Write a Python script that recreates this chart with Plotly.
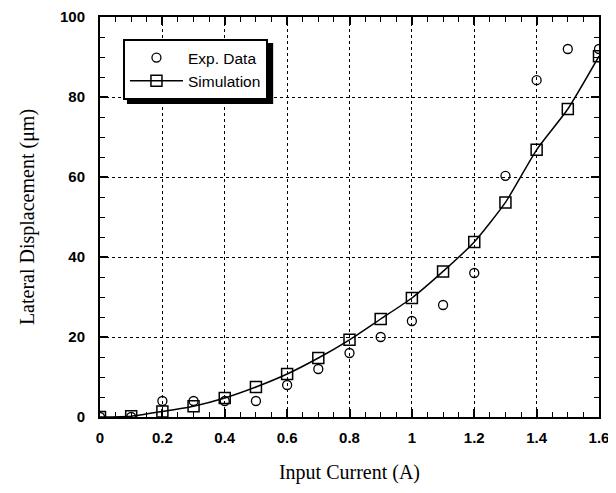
import plotly.graph_objects as go

current = [0, 0.1, 0.2, 0.3, 0.4, 0.5, 0.6, 0.7, 0.8, 0.9, 1.0, 1.1, 1.2, 1.3, 1.4, 1.5, 1.6]
exp_data = [0, 0, 4, 4, 4, 4, 8, 12, 16, 20, 24, 28, 36, 60.3, 84.2, 92, 92]
simulation = [0, 0.2, 1.4, 2.7, 4.75, 7.5, 10.75, 14.75, 19.3, 24.5, 29.75, 36.4, 43.75, 53.65, 66.8, 77, 90.2]

x_ticks = [0, 0.2, 0.4, 0.6, 0.8, 1.0, 1.2, 1.4, 1.6]
x_labels = ["0", "0.2", "0.4", "0.6", "0.8", "1", "1.2", "1.4", "1.6"]
y_ticks = [0, 20, 40, 60, 80, 100]

fig = go.Figure()
fig.add_trace(go.Scatter(
    x=current, y=exp_data, mode="markers", name="Exp. Data",
    marker=dict(symbol="circle-open", size=9, color="black", line=dict(width=1.3)),
))
fig.add_trace(go.Scatter(
    x=current, y=simulation, mode="lines+markers", name="Simulation",
    line=dict(color="black", width=1.5, shape="spline", smoothing=0.6),
    marker=dict(symbol="square-open", size=11, color="black", line=dict(width=1.5)),
))

tick_font = dict(family="Arial, Liberation Sans, sans-serif", size=15, color="black", weight="bold")
title_font = dict(family="Times New Roman, Liberation Serif, serif", size=20, color="black")

axis_common = dict(
    showline=True, linecolor="black", linewidth=2, mirror="ticks",
    ticks="inside", tickcolor="black", tickwidth=1.5, ticklen=8,
    showgrid=True, gridcolor="black", griddash="dot", gridwidth=1,
    zeroline=False, tickfont=tick_font, automargin=False,
)

fig.update_xaxes(
    range=[0, 1.6], tickvals=x_ticks, ticktext=x_labels, ticklabelstandoff=6,
    minor=dict(dtick=0.05, ticks="inside", ticklen=5, tickcolor="black", tickwidth=1.2, showgrid=False),
    title=dict(text="Input Current (A)", font=title_font, standoff=20),
    **axis_common,
)
fig.update_yaxes(
    range=[0, 100], tickvals=y_ticks, ticklabelstandoff=10,
    minor=dict(dtick=5, ticks="inside", ticklen=5, tickcolor="black", tickwidth=1.2, showgrid=False),
    title=dict(text="Lateral Displacement (\u03bcm)", font=title_font, standoff=20),
    **axis_common,
)

# legend drop shadow
fig.add_shape(type="rect", xref="paper", yref="paper",
              x0=0.054, x1=0.347, y0=0.7825, y1=0.935,
              fillcolor="black", line=dict(width=0), layer="above")

fig.update_layout(
    width=608, height=477,
    margin=dict(l=92, r=17, t=9, b=68),
    plot_bgcolor="white", paper_bgcolor="white",
    showlegend=True,
    legend=dict(
        x=0.046, y=0.945, xanchor="left", yanchor="top",
        bgcolor="white", bordercolor="black", borderwidth=2,
        font=dict(family="Arial, Liberation Sans, sans-serif", size=15.5, color="black"),
        tracegroupgap=0, itemwidth=53,
    ),
)

fig.write_html("out.html")
